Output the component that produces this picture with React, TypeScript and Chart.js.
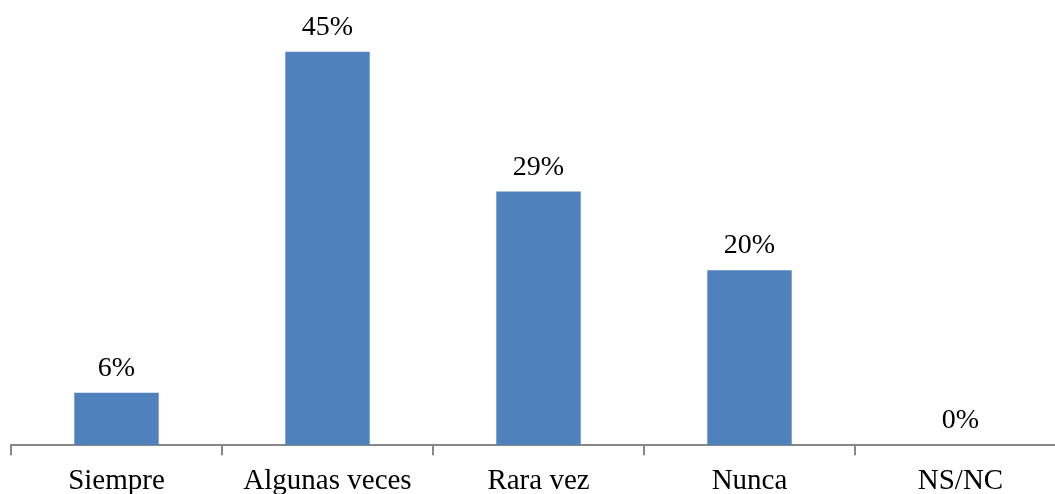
import React, { useEffect, useRef } from "react";
import { Chart, registerables } from "chart.js";

Chart.register(...registerables);

const categories: string[] = ["Siempre", "Algunas veces", "Rara vez", "Nunca", "NS/NC"];
const values: number[] = [6, 45, 29, 20, 0];
const valueLabels: string[] = ["6%", "45%", "29%", "20%", "0%"];

const FONT = "'Liberation Serif', 'Times New Roman', serif";

const valueLabelPlugin = {
  id: "valueLabels",
  afterDatasetsDraw(chart: any) {
    const ctx = chart.ctx;
    const meta = chart.getDatasetMeta(0);
    ctx.save();
    ctx.fillStyle = "#000000";
    ctx.font = `28px ${FONT}`;
    ctx.textAlign = "center";
    ctx.textBaseline = "alphabetic";
    meta.data.forEach((bar: any, i: number) => {
      ctx.fillText(valueLabels[i], bar.x, bar.y - 17);
    });
    ctx.restore();
  },
};

export default function App() {
  const ref = useRef<HTMLCanvasElement | null>(null);
  useEffect(() => {
    if (!ref.current) return;
    const chart = new Chart(ref.current, {
      type: "bar",
      data: {
        labels: categories,
        datasets: [
          {
            data: values,
            backgroundColor: "#4F81BD",
            borderWidth: 0,
            categoryPercentage: 0.8,
            barPercentage: 0.5,
          },
        ],
      },
      options: {
        animation: false,
        responsive: false,
        maintainAspectRatio: false,
        layout: { padding: { left: 11, right: 4, top: 8, bottom: 0 } },
        plugins: { legend: { display: false }, tooltip: { enabled: false } },
        scales: {
          x: {
            offset: true,
            grid: {
              offset: true,
              drawOnChartArea: false,
              drawTicks: true,
              tickLength: 10,
              lineWidth: 2,
              color: "#878787",
            },
            border: { display: true, color: "#878787", width: 2 },
            ticks: {
              color: "#000000",
              font: { family: FONT, size: 29 },
              padding: 9,
              maxRotation: 0,
              autoSkip: false,
            },
          },
          y: { display: false, min: 0, max: 50 },
        },
      },
      plugins: [valueLabelPlugin],
    });
    return () => chart.destroy();
  }, []);
  return (
    <div style={{ position: "fixed", left: 0, top: 0, width: 1055, height: 494, overflow: "hidden", background: "#fff" }}>
      <canvas ref={ref} width={1070} height={508} style={{ display: "block" }} />
    </div>
  );
}
